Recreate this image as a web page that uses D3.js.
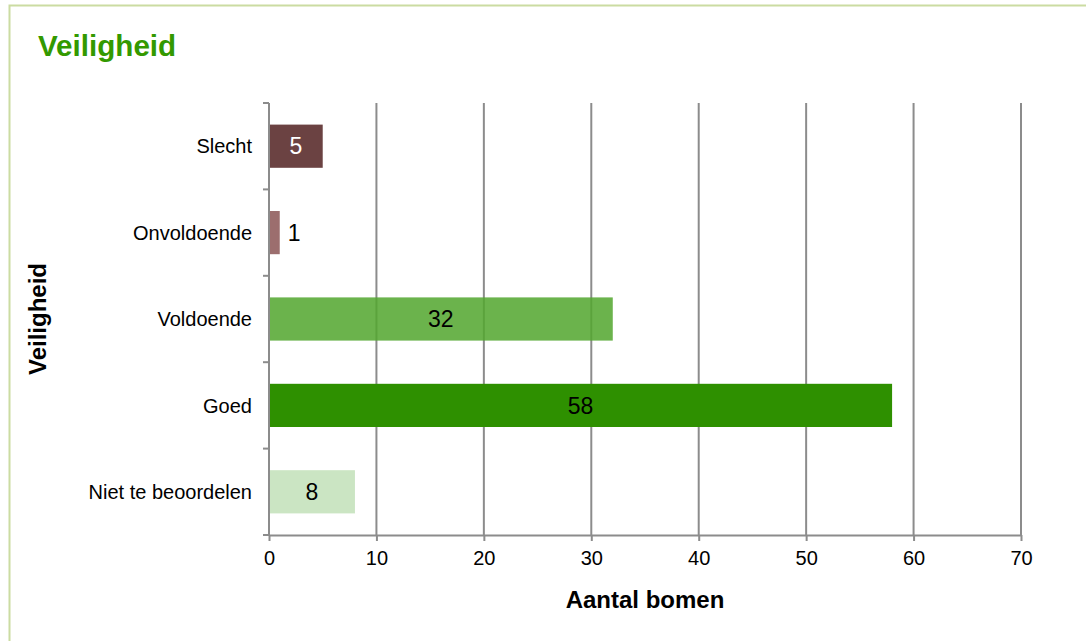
<!DOCTYPE html>
<html><head><meta charset="utf-8">
<script src="https://cdn.jsdelivr.net/npm/d3@7"></script>
<style>
html,body{margin:0;padding:0;background:#fff;}
svg{display:block;font-family:"Liberation Sans",Arial,sans-serif;}
</style></head>
<body>
<svg id="chart" width="1086" height="641"></svg>
<script>
const categories = ["Slecht", "Onvoldoende", "Voldoende", "Goed", "Niet te beoordelen"];
const values = [5, 1, 32, 58, 8];
const barColors = ["#6b4242", "#9c6e6e", "#53a62e", "#2e9000", "#cbe5c3"];
const barOpacity = [1, 1, 0.86, 1, 1];
const labelInside = [true, false, true, true, true];
const labelColors = ["#ffffff", "#000000", "#000000", "#000000", "#000000"];
const xTicks = [0, 10, 20, 30, 40, 50, 60, 70];
const chartTitle = "Veiligheid";
const xTitle = "Aantal bomen";
const yTitle = "Veiligheid";

const svg = d3.select("#chart");
const plotLeft = 269, plotRight = 1021, plotTop = 103, plotBottom = 535;

// frame
svg.append("rect").attr("x", 9.5).attr("y", 5.5).attr("width", 1100).attr("height", 700)
  .attr("fill", "none").attr("stroke", "#cbdca2").attr("stroke-width", 2);

svg.append("text").attr("x", 38).attr("y", 56).text(chartTitle)
  .attr("font-size", 29.6).attr("font-weight", "bold").attr("fill", "#339900");

const x = d3.scaleLinear().domain([0, 70]).range([plotLeft, plotRight]);
const y = d3.scaleBand().domain(categories).range([plotTop, plotBottom]).paddingInner(0.5).paddingOuter(0.25);

const gridColor = "#8c8c8c";
// gridlines
svg.append("g").selectAll("line").data(xTicks.slice(1)).join("line")
  .attr("x1", d => x(d)).attr("x2", d => x(d)).attr("y1", plotTop).attr("y2", plotBottom)
  .attr("stroke", gridColor).attr("stroke-width", 2);

// bars
svg.append("g").selectAll("rect").data(values).join("rect")
  .attr("x", x(0)).attr("y", (d, i) => y(categories[i]))
  .attr("width", d => x(d) - x(0)).attr("height", y.bandwidth())
  .attr("fill", (d, i) => barColors[i]).attr("fill-opacity", (d, i) => barOpacity[i]);

// x axis
const xAxis = svg.append("g").attr("transform", `translate(0,${plotBottom})`)
  .call(d3.axisBottom(x).tickValues(xTicks).tickSize(6).tickPadding(10).tickSizeOuter(0));
xAxis.select(".domain").attr("stroke", gridColor).attr("stroke-width", 2);
xAxis.selectAll(".tick line").attr("stroke", gridColor).attr("stroke-width", 2);
xAxis.selectAll(".tick text").attr("font-size", 20).attr("fill", "#000")
  .attr("font-family", "Liberation Sans, Arial, sans-serif");

// y axis: ticks at band boundaries
const yAxisG = svg.append("g").attr("transform", `translate(${plotLeft},0)`);
yAxisG.append("line").attr("x1", 0).attr("x2", 0).attr("y1", plotTop).attr("y2", plotBottom)
  .attr("stroke", gridColor).attr("stroke-width", 2);
const step = y.step();
const boundaries = d3.range(categories.length + 1).map(i => y(categories[0]) - step * 0.25 + i * step);
yAxisG.selectAll("line.tk").data(boundaries).join("line").attr("class", "tk")
  .attr("x1", -6).attr("x2", 0).attr("y1", d => d).attr("y2", d => d)
  .attr("stroke", gridColor).attr("stroke-width", 2);
yAxisG.selectAll("text").data(categories).join("text")
  .attr("x", -17).attr("y", d => y(d) + y.bandwidth() / 2).attr("dy", "0.36em")
  .attr("text-anchor", "end").attr("font-size", 20).attr("fill", "#000").text(d => d);

// value labels
svg.append("g").selectAll("text").data(values).join("text")
  .attr("x", (d, i) => labelInside[i] ? (x(0) + x(d)) / 2 : x(d) + 8)
  .attr("y", (d, i) => y(categories[i]) + y.bandwidth() / 2).attr("dy", "0.36em")
  .attr("text-anchor", (d, i) => labelInside[i] ? "middle" : "start")
  .attr("font-size", 23).attr("fill", (d, i) => labelColors[i]).text(d => d);

// axis titles
svg.append("text").attr("x", (plotLeft + plotRight) / 2).attr("y", 608).attr("text-anchor", "middle")
  .attr("font-size", 24).attr("font-weight", "bold").text(xTitle);
svg.append("text").attr("transform", `translate(46,${(plotTop + plotBottom) / 2}) rotate(-90)`)
  .attr("text-anchor", "middle").attr("font-size", 24).attr("font-weight", "bold").text(yTitle);
</script>
</body></html>
